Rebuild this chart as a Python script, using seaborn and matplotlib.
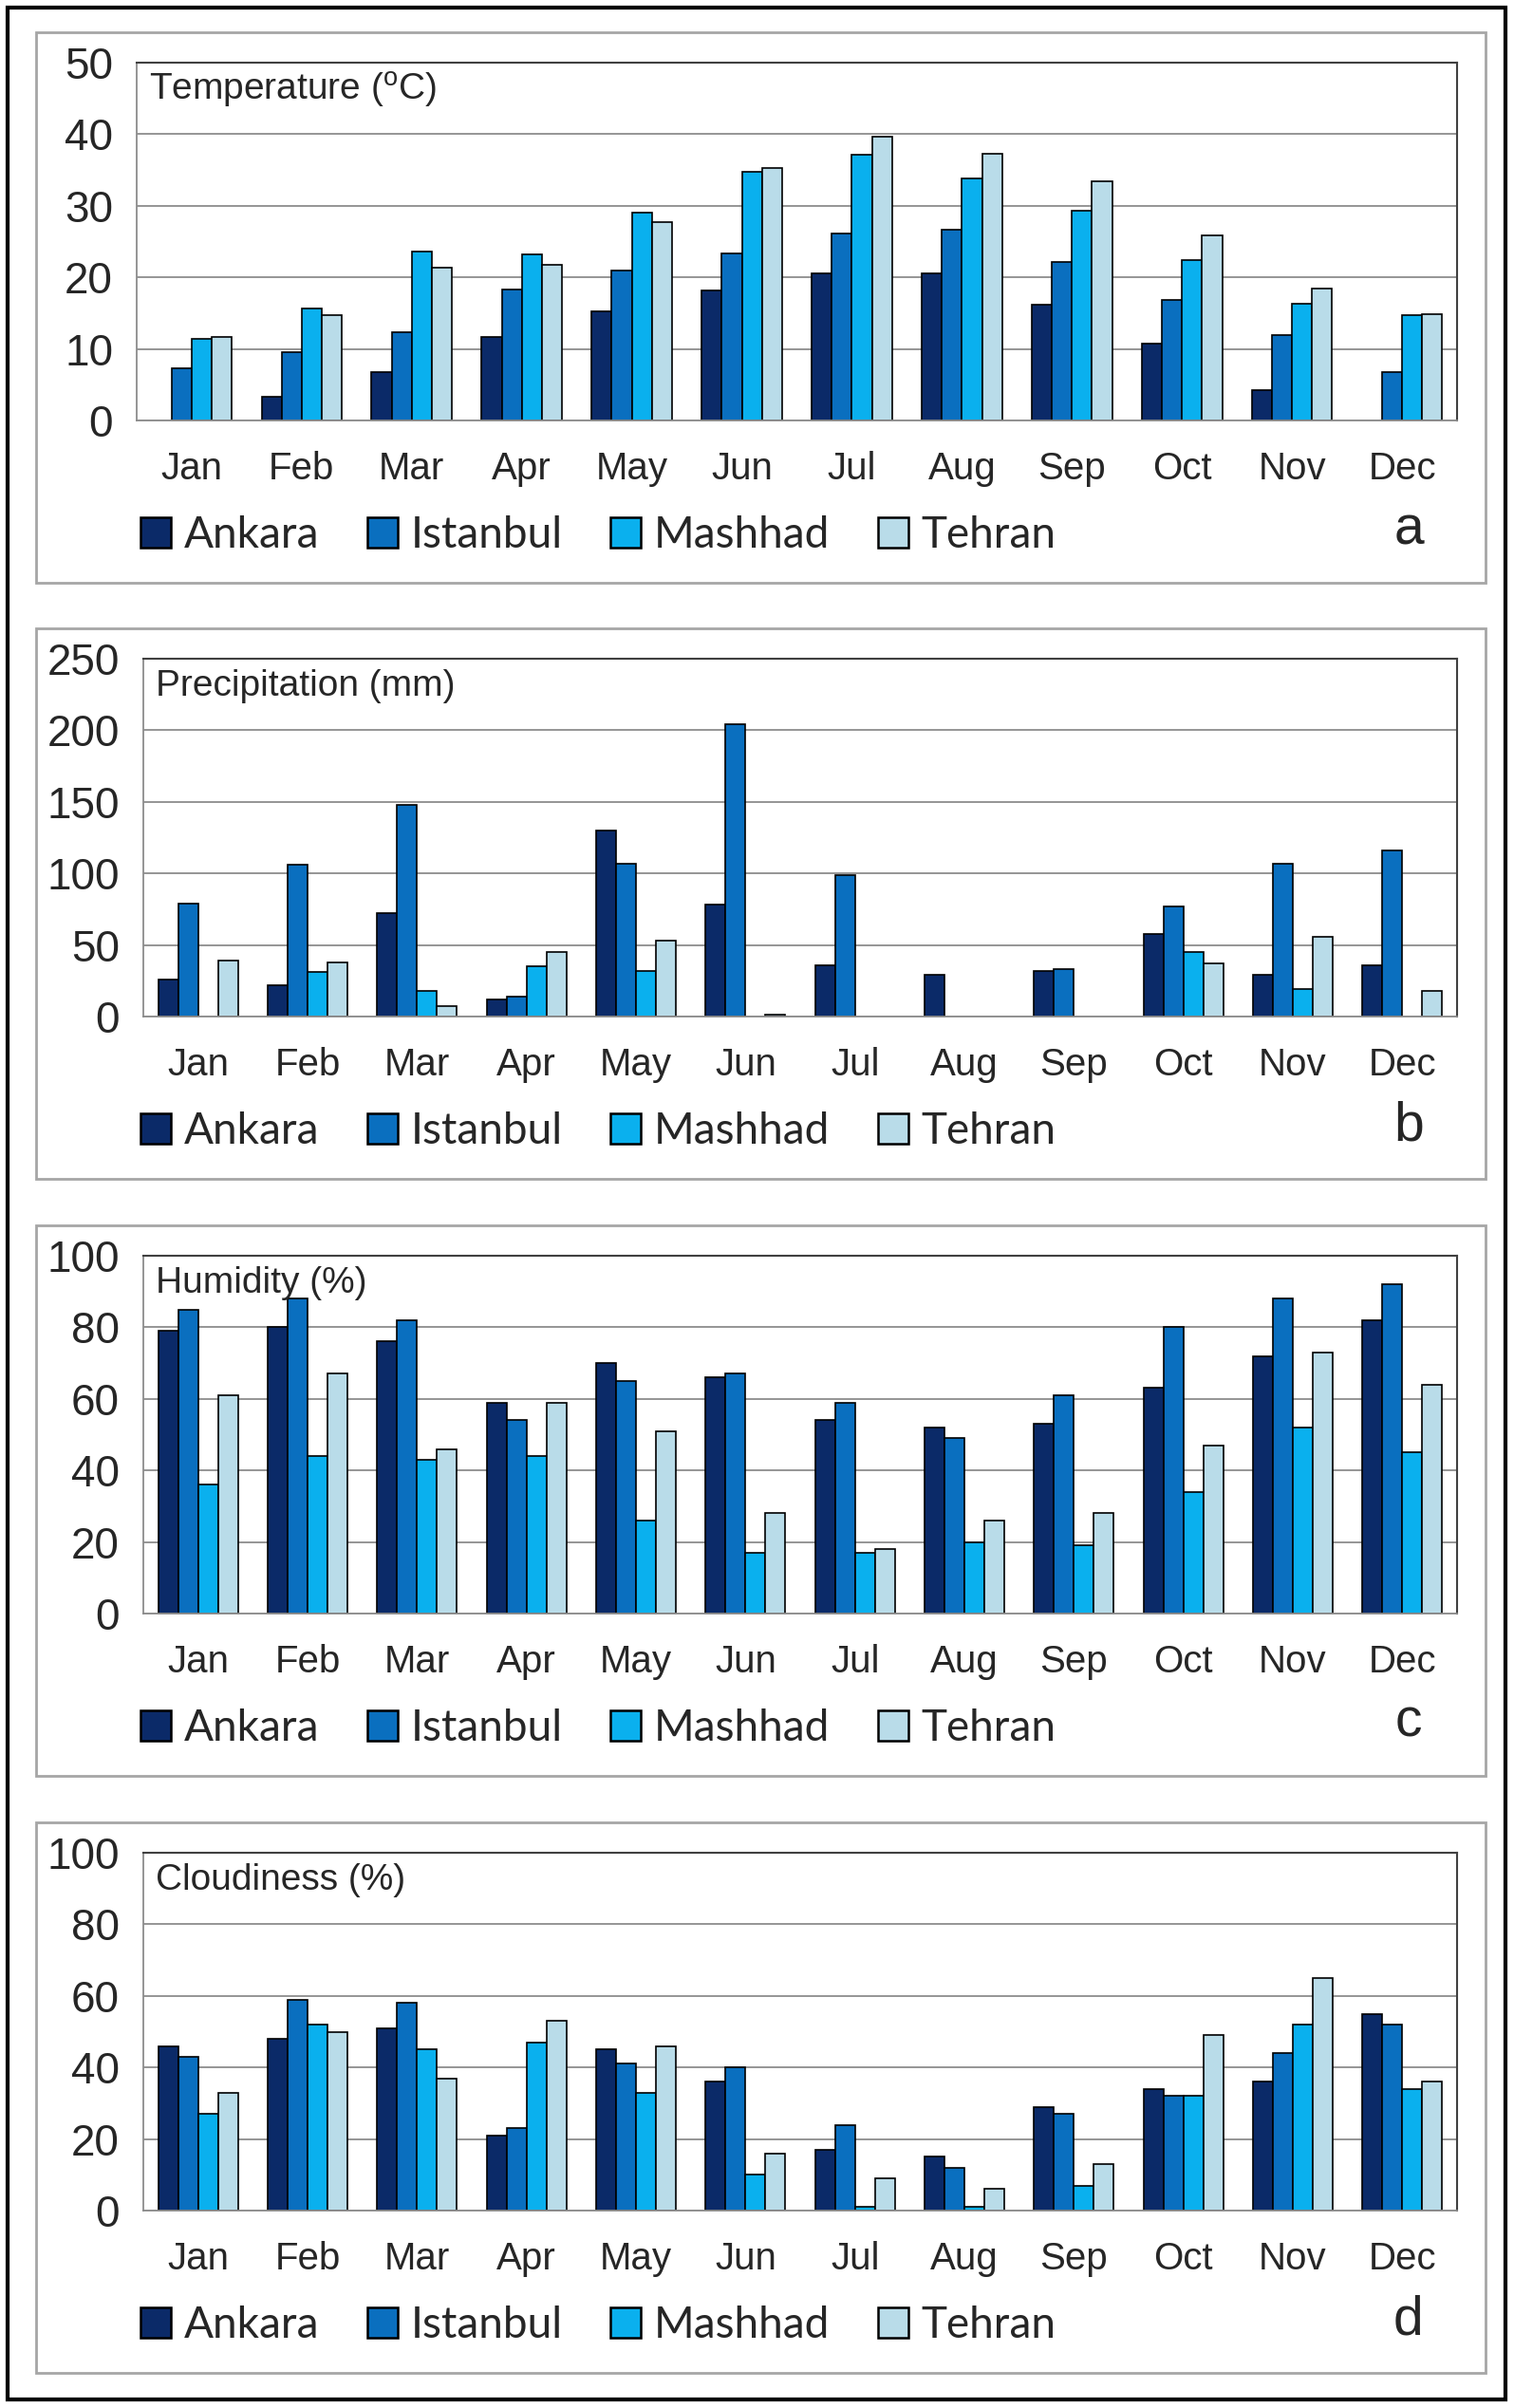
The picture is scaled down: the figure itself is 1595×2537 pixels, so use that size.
import numpy as np
import pandas as pd
import seaborn as sns
import matplotlib.pyplot as plt
from matplotlib.patches import Patch, Rectangle
from matplotlib.ticker import FixedLocator, NullFormatter, MultipleLocator

months = ['Jan', 'Feb', 'Mar', 'Apr', 'May', 'Jun', 'Jul', 'Aug', 'Sep', 'Oct', 'Nov', 'Dec']
cities = ['Ankara', 'Istanbul', 'Mashhad', 'Tehran']
city_colors = ['#0b2a68', '#0a6fbf', '#0ab0ee', '#b9dce9']

nan = np.nan

# (a) temperature, deg C
temp_ankara = [nan, 3.3, 6.7, 11.7, 15.3, 18.2, 20.6, 20.6, 16.2, 10.7, 4.2, nan]
temp_istanbul = [7.3, 9.5, 12.3, 18.3, 21.0, 23.3, 26.1, 26.7, 22.1, 16.8, 11.9, 6.8]
temp_mashhad = [11.4, 15.7, 23.6, 23.2, 29.0, 34.8, 37.2, 33.8, 29.3, 22.4, 16.3, 14.7]
temp_tehran = [11.7, 14.7, 21.4, 21.7, 27.7, 35.3, 39.6, 37.3, 33.4, 25.9, 18.4, 14.9]

# (b) precipitation, mm
prec_ankara = [26, 22, 72, 12, 130, 78, 36, 29, 32, 58, 29, 36]
prec_istanbul = [79, 106, 148, 14, 107, 204, 99, nan, 33, 77, 107, 116]
prec_mashhad = [nan, 31, 18, 35, 32, nan, nan, nan, nan, 45, 19, nan]
prec_tehran = [39, 38, 7, 45, 53, 1, nan, nan, nan, 37, 56, 18]

# (c) humidity, %
hum_ankara = [79, 80, 76, 59, 70, 66, 54, 52, 53, 63, 72, 82]
hum_istanbul = [85, 88, 82, 54, 65, 67, 59, 49, 61, 80, 88, 92]
hum_mashhad = [36, 44, 43, 44, 26, 17, 17, 20, 19, 34, 52, 45]
hum_tehran = [61, 67, 46, 59, 51, 28, 18, 26, 28, 47, 73, 64]

# (d) cloudiness, %
cloud_ankara = [46, 48, 51, 21, 45, 36, 17, 15, 29, 34, 36, 55]
cloud_istanbul = [43, 59, 58, 23, 41, 40, 24, 12, 27, 32, 44, 52]
cloud_mashhad = [27, 52, 45, 47, 33, 10, 1, 1, 7, 32, 52, 34]
cloud_tehran = [33, 50, 37, 53, 46, 16, 9, 6, 13, 49, 65, 36]

W, H = 1595, 2537

sns.set_style("white")
plt.rcParams['font.family'] = ['Liberation Sans', 'DejaVu Sans']

fig = plt.figure(figsize=(W / 100, H / 100), dpi=100)


def fx(x):
    return x / W


def fy(y):
    return 1 - y / H


def long_frame(series):
    frames = []
    for city, vals in zip(cities, series):
        frames.append(pd.DataFrame({'month': months, 'city': city, 'value': vals}))
    return pd.concat(frames, ignore_index=True)


def panel(series, ymax, ystep, title, letter, box_top, left):
    # gray frame around each panel
    box_bottom = box_top + 580
    fig.patches.append(Rectangle((fx(38), fy(box_bottom)), (1565 - 38) / W, 580 / H,
                                 transform=fig.transFigure, fill=False,
                                 edgecolor='#a6a6a6', linewidth=2))
    top = box_top + 32
    bottom = top + 377
    ax = fig.add_axes([fx(left), fy(bottom), (1535 - left) / W, (bottom - top) / H])

    df = long_frame(series)
    sns.barplot(data=df, x='month', y='value', hue='city', order=months,
                hue_order=cities, palette=dict(zip(cities, city_colors)),
                saturation=1, width=0.73, gap=0, edgecolor='black', linewidth=1.2,
                errorbar=None, legend=False, ax=ax)

    ax.set_axisbelow(True)
    ax.set_ylim(0, ymax)
    ax.set_xlim(-0.5, 11.5)
    ax.yaxis.set_major_locator(MultipleLocator(ystep))
    ax.grid(axis='y', color='#8c8c8c', linewidth=1.3)
    ax.grid(axis='x', visible=False)
    ax.xaxis.set_major_locator(FixedLocator(np.arange(-0.5, 12, 1)))
    ax.xaxis.set_major_formatter(NullFormatter())
    ax.xaxis.set_minor_locator(FixedLocator(np.arange(12)))
    ax.set_xticklabels(months, minor=True)
    ax.tick_params(axis='x', which='major', length=7, width=1.2, color='#8c8c8c')
    ax.tick_params(axis='x', which='minor', length=0, labelsize=29, pad=23)
    ax.tick_params(axis='y', length=7, width=1.2, color='#8c8c8c', labelsize=33, pad=11)
    ax.set_xlabel('')
    ax.set_ylabel('')
    for side in ['left', 'bottom']:
        ax.spines[side].set_color('#8c8c8c')
        ax.spines[side].set_linewidth(1.3)
    for side in ['top', 'right']:
        ax.spines[side].set_color('#404040')
        ax.spines[side].set_linewidth(1.5)

    fig.text(fx(left + 13), fy(top + 29), title, fontsize=28, va='center', ha='left')
    fig.text(fx(1484), fy(box_bottom - 56), letter, fontsize=41, va='center', ha='center')

    handles = [Patch(facecolor=c, edgecolor='black', linewidth=1.8, label=city)
               for city, c in zip(cities, city_colors)]
    fig.legend(handles=handles, loc='center left',
               bbox_to_anchor=(fx(148), fy(box_bottom - 50)), ncol=4, frameon=False,
               prop={'family': 'Lato', 'size': 33}, handlelength=0.7, handleheight=0.7,
               handletextpad=0.3, columnspacing=1.1, borderaxespad=0, borderpad=0)
    return ax


panel([temp_ankara, temp_istanbul, temp_mashhad, temp_tehran], 50, 10,
      r'Temperature ($\mathregular{^{o}}$C)', 'a', 34, 144)
panel([prec_ankara, prec_istanbul, prec_mashhad, prec_tehran], 250, 50,
      'Precipitation (mm)', 'b', 662, 151)
panel([hum_ankara, hum_istanbul, hum_mashhad, hum_tehran], 100, 20,
      'Humidity (%)', 'c', 1291, 151)
panel([cloud_ankara, cloud_istanbul, cloud_mashhad, cloud_tehran], 100, 20,
      'Cloudiness (%)', 'd', 1920, 151)

# outer black frame
fig.patches.append(Rectangle((fx(8), fy(2528)), (1586 - 8) / W, (2528 - 8) / H,
                             transform=fig.transFigure, fill=False,
                             edgecolor='black', linewidth=3))

fig.savefig('out.png', dpi=100)
